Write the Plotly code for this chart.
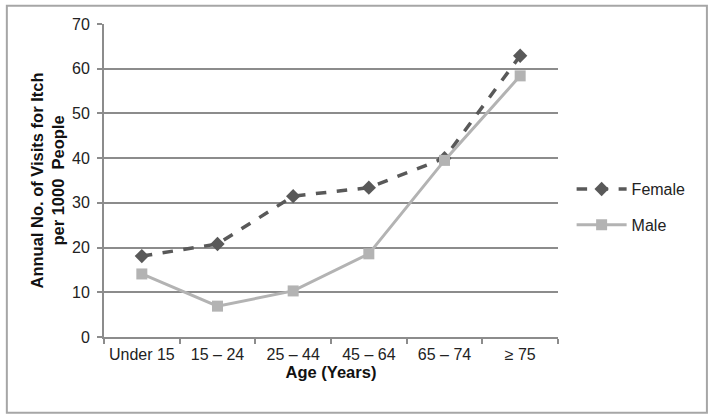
import plotly.graph_objects as go

categories = ["Under 15", "15 – 24", "25 – 44", "45 – 64", "65 – 74", "≥ 75"]
female = [18.1, 20.8, 31.5, 33.4, 40.0, 62.9]
male = [14.1, 6.9, 10.3, 18.6, 39.5, 58.4]
y_ticks = [0, 10, 20, 30, 40, 50, 60, 70]

FONT = "Liberation Sans, Arial, sans-serif"

fig = go.Figure()
fig.add_trace(go.Scatter(
    x=categories, y=female, name="Female", mode="lines+markers", legendgroup="f",
    line=dict(color="#595959", width=3.5, dash="dash"),
    marker=dict(symbol="diamond", size=11, color="#595959"),
))
fig.add_trace(go.Scatter(
    x=categories, y=male, name="Male", mode="lines+markers", legendgroup="m",
    line=dict(color="#b3b3b3", width=3),
    marker=dict(symbol="square", size=11, color="#b3b3b3"),
))

fig.update_layout(
    width=714, height=420,
    margin=dict(l=104, r=156, t=24, b=83),
    paper_bgcolor="white", plot_bgcolor="white",
    font=dict(family=FONT, size=16, color="#222222"),
    showlegend=True,
    legend=dict(x=1.03, y=0.415, xanchor="left", yanchor="middle",
                font=dict(size=16, color="#222222"), tracegroupgap=12,
                itemwidth=50, bgcolor="rgba(0,0,0,0)"),
    xaxis=dict(
        type="category", range=[-0.5, 5.5], tickangle=0,
        tickfont=dict(size=16), ticklabelstandoff=2,
        showline=True, linecolor="#8c8c8c", linewidth=2,
        ticks="outside", ticklen=5, tickcolor="#8c8c8c", tickwidth=1.5,
        tickson="boundaries", showgrid=False,
        title=dict(text="<b>Age (Years)</b>", standoff=4,
                   font=dict(size=16.5, color="#111111")),
    ),
    yaxis=dict(
        range=[0, 70], tickvals=y_ticks, tickfont=dict(size=16),
        showline=True, linecolor="#8c8c8c", linewidth=2,
        ticks="outside", ticklen=5, tickcolor="#8c8c8c", tickwidth=1.5,
        showgrid=True, gridcolor="#8c8c8c", gridwidth=1.5,
        zeroline=False, ticklabelstandoff=4,
        title=dict(text="<b>Annual No. of Visits for Itch<br>per 1000  People</b>",
                   standoff=3, font=dict(size=16.5, color="#111111")),
    ),
)

fig.add_shape(type="rect", xref="paper", yref="paper",
              x0=-0.214, x1=1.328, y0=-0.242, y1=1.058,
              line=dict(color="#a6a6a6", width=2), layer="below")

fig.write_html("out.html", config={"displayModeBar": False},
               post_script="document.body.style.margin='0';")
